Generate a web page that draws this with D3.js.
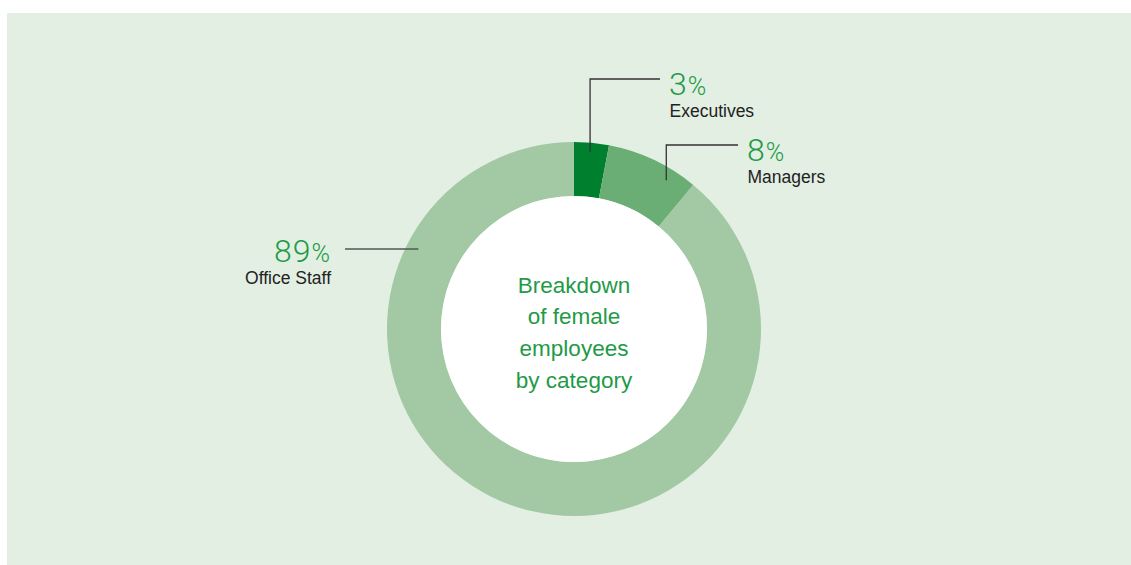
<!DOCTYPE html>
<html>
<head>
<meta charset="utf-8">
<script src="https://cdn.jsdelivr.net/npm/d3@7"></script>
<style>
  html, body { margin: 0; padding: 0; background: #ffffff; }
  svg { display: block; }
  text { font-family: "Liberation Sans", Arial, Helvetica, sans-serif; }
  text.pct { font-family: Roboto, "Liberation Sans", Arial, sans-serif; font-weight: 300; }
</style>
</head>
<body>
<svg id="chart" width="1131" height="565"></svg>
<script>
// Share of female employees by category (percent)
const categories = ["Executives", "Managers", "Office Staff"];
const shares = [3, 8, 89];
const sliceColors = ["#00802f", "#6aae76", "#a2c9a4"];
const centerTitle = ["Breakdown", "of female", "employees", "by category"];

const width = 1131, height = 565;
const cx = 574, cy = 329;
const outerR = 187, innerR = 133;
const green = "#1f9a47";
const ink = "#222222";

const svg = d3.select("#chart");

// panel
svg.append("rect")
  .attr("x", 7).attr("y", 13)
  .attr("width", width - 7).attr("height", height - 13)
  .attr("fill", "#e2efe2");

const data = categories.map((c, i) => ({ name: c, value: shares[i], color: sliceColors[i] }));

const pie = d3.pie().value(d => d.value).sort(null);
const arc = d3.arc().innerRadius(innerR).outerRadius(outerR);
const arcs = pie(data);

const g = svg.append("g").attr("transform", `translate(${cx},${cy})`);

g.selectAll("path.slice")
  .data(arcs)
  .join("path")
  .attr("class", "slice")
  .attr("d", arc)
  .attr("fill", d => d.data.color);

// inner white disc
g.append("circle").attr("r", innerR).attr("fill", "#ffffff");

// centre title
const title = g.append("text")
  .attr("text-anchor", "middle")
  .attr("fill", green)
  .attr("font-size", 22.5);
centerTitle.forEach((line, i) => {
  title.append("tspan").attr("x", 0).attr("y", -36.3 + i * 31.7).text(line);
});

// callouts: anchor on the ring at a fraction through each slice, then elbow out to the label
const callouts = [
  { idx: 0, t: 0.48, r: 178, elbowY: 79,  endX: 660, side: "right" },
  { idx: 1, t: 0.73, r: 175, elbowY: 145, endX: 738, side: "right" },
  { idx: 2, t: 0.804, r: 175, side: "left", endX: 345 }
];

function polar(angle, r) {
  return [cx + r * Math.sin(angle), cy - r * Math.cos(angle)];
}

callouts.forEach(c => {
  const a = arcs[c.idx];
  const ang = a.startAngle + (a.endAngle - a.startAngle) * c.t;
  const [px, py] = polar(ang, c.r);
  let pts, lineY, tx, anchor;
  if (c.side === "right") {
    pts = [[px, py], [px, c.elbowY], [c.endX, c.elbowY]];
    lineY = c.elbowY;
    tx = c.endX + 9;
    anchor = "start";
  } else {
    pts = [[px, py], [c.endX, py]];
    lineY = py;
    tx = c.endX - 15;
    anchor = "end";
  }
  svg.append("path")
    .attr("d", d3.line()(pts))
    .attr("fill", "none")
    .attr("stroke", c.side === "left" ? "#4d5a4f" : "#333333")
    .attr("stroke-width", 1.3);

  const numY = c.side === "right" ? lineY + 16 : lineY + 13;
  const num = svg.append("text")
    .attr("class", "pct")
    .attr("x", tx).attr("y", numY)
    .attr("text-anchor", anchor)
    .attr("fill", green);
  num.append("tspan").attr("font-size", 32).attr("letter-spacing", 1).text(a.data.value);
  num.append("tspan").attr("font-size", 25).attr("dx", 0).text("%");

  svg.append("text")
    .attr("x", c.side === "right" ? tx + 0.5 : tx + 1)
    .attr("y", numY + 22)
    .attr("text-anchor", anchor)
    .attr("fill", ink)
    .attr("font-size", 17.5)
    .text(a.data.name);
});
</script>
</body>
</html>
